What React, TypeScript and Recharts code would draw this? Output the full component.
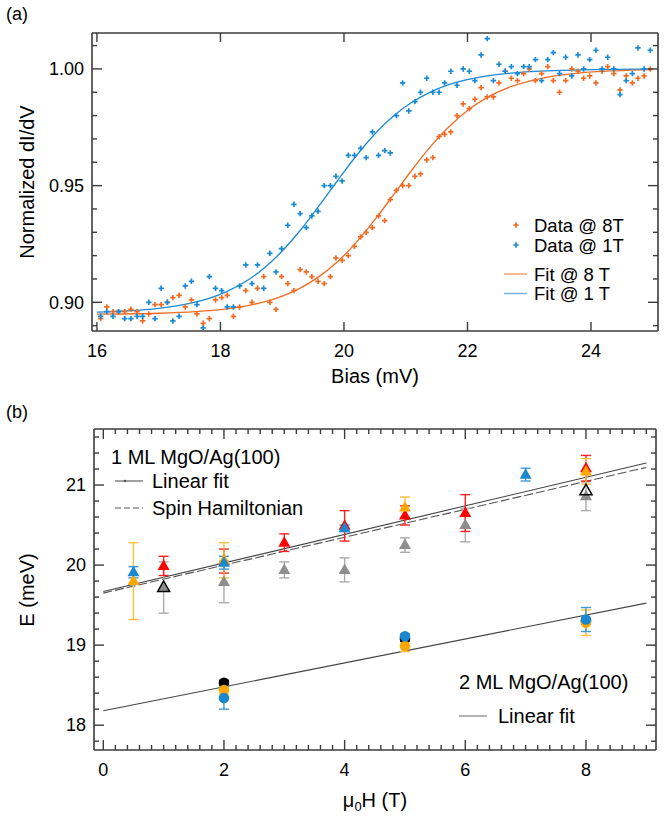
import React from 'react';
import { ComposedChart, Scatter, Line, XAxis, YAxis, ErrorBar } from 'recharts';

const FONT = '"Liberation Sans", Arial, Helvetica, sans-serif';
const AXIS = '#3c3c3c';

// ---------- Panel (a) ----------
const biasMv = [
  16.06, 16.16, 16.26, 16.35, 16.45, 16.55, 16.65, 16.74, 16.84, 16.94,
  17.04, 17.14, 17.23, 17.33, 17.43, 17.53, 17.62, 17.72, 17.82, 17.92,
  18.02, 18.11, 18.21, 18.31, 18.41, 18.51, 18.60, 18.70, 18.80, 18.90,
  18.99, 19.09, 19.19, 19.29, 19.39, 19.48, 19.58, 19.68, 19.78, 19.87,
  19.97, 20.07, 20.17, 20.27, 20.36, 20.46, 20.56, 20.66, 20.75, 20.85,
  20.95, 21.05, 21.15, 21.24, 21.34, 21.44, 21.54, 21.63, 21.73, 21.83,
  21.93, 22.03, 22.12, 22.22, 22.32, 22.42, 22.51, 22.61, 22.71, 22.81,
  22.91, 23.00, 23.10, 23.20, 23.30, 23.39, 23.49, 23.59, 23.69, 23.79,
  23.88, 23.98, 24.08, 24.18, 24.27, 24.37, 24.47, 24.57, 24.67, 24.76,
  24.86, 24.96,
];
const dIdV8T = [
  0.893, 0.898, 0.896, 0.896, 0.896, 0.897, 0.896, 0.892, 0.895, 0.899,
  0.899, 0.900, 0.902, 0.903, 0.898, 0.901, 0.895, 0.891, 0.893, 0.901,
  0.902, 0.903, 0.894, 0.898, 0.905, 0.900, 0.906, 0.911, 0.900, 0.897,
  0.911, 0.908, 0.905, 0.914, 0.913, 0.911, 0.909, 0.908, 0.911, 0.919,
  0.918, 0.920, 0.924, 0.928, 0.930, 0.932, 0.937, 0.935, 0.944, 0.948,
  0.950, 0.950, 0.954, 0.955, 0.961, 0.962, 0.971, 0.972, 0.973, 0.980,
  0.985, 0.983, 0.987, 0.992, 0.988, 0.988, 0.994, 0.999, 0.996, 0.995,
  0.998, 1.000, 0.995, 0.998, 1.001, 0.995, 0.990, 0.995, 1.000, 0.999,
  0.996, 0.997, 0.994, 0.999, 1.001, 0.998, 0.991, 0.997, 0.994, 0.996,
  0.997, 1.000,
];
const dIdV1T = [
  0.894, 0.896, 0.894, 0.896, 0.893, 0.893, 0.894, 0.894, 0.900, 0.893,
  0.906, 0.900, 0.892, 0.894, 0.907, 0.909, 0.899, 0.889, 0.911, 0.906,
  0.905, 0.898, 0.898, 0.907, 0.916, 0.908, 0.916, 0.906, 0.921, 0.913,
  0.923, 0.933, 0.942, 0.938, 0.932, 0.937, 0.939, 0.950, 0.950, 0.954,
  0.952, 0.963, 0.963, 0.966, 0.962, 0.973, 0.963, 0.965, 0.964, 0.980,
  0.994, 0.982, 0.986, 0.990, 0.996, 0.990, 0.990, 0.994, 0.999, 0.993,
  1.000, 0.999, 0.995, 1.006, 1.013, 0.995, 1.002, 0.999, 1.001, 0.998,
  1.001, 1.001, 1.004, 0.995, 1.004, 1.007, 0.998, 1.005, 0.997, 1.006,
  1.000, 1.004, 1.008, 1.000, 1.005, 1.000, 0.989, 0.995, 0.998, 1.009,
  1.000, 1.008,
];
const fitBias8T = [16.0, 17.0, 17.6, 18.1, 18.5, 18.9, 19.3, 19.6, 19.9, 20.2, 20.5, 20.8, 21.1, 21.4, 21.7, 22.0, 22.3, 22.7, 23.2, 23.8, 24.4, 25.0];
const fit8T = [0.8949, 0.8953, 0.896, 0.8972, 0.8989, 0.9017, 0.9062, 0.9111, 0.9175, 0.9257, 0.9354, 0.946, 0.9567, 0.9667, 0.9752, 0.9822, 0.9875, 0.9924, 0.996, 0.9982, 0.9992, 0.9997];
const fitBias1T = [16.0, 16.5, 17.0, 17.5, 17.8, 18.1, 18.4, 18.7, 19.0, 19.3, 19.6, 19.9, 20.2, 20.5, 20.8, 21.1, 21.4, 21.8, 22.2, 22.7, 23.3, 24.0, 25.0];
const fit1T = [0.8958, 0.8963, 0.8974, 0.8995, 0.9016, 0.9046, 0.9088, 0.9145, 0.922, 0.9311, 0.9415, 0.9523, 0.9628, 0.9721, 0.9798, 0.9857, 0.9901, 0.9941, 0.9965, 0.9982, 0.9992, 0.9997, 1.0];
const biasTicks = [16, 18, 20, 22, 24];
const dIdVTicks = [0.89, 0.9, 0.91, 0.92, 0.93, 0.94, 0.95, 0.96, 0.97, 0.98, 0.99, 1.0, 1.01];

// ---------- Panel (b) ----------
const gray1ML_T = [1, 2, 3, 4, 5, 6, 8];
const gray1ML_E = [19.72, 19.79, 19.94, 19.94, 20.25, 20.5, 20.86];
const gray1ML_err = [0.32, 0.26, 0.1, 0.15, 0.09, 0.21, 0.18];
const open1ML_T = [1, 8];
const open1ML_E = [19.72, 20.93];
const red1ML_T = [1, 2, 3, 4, 5, 6, 8];
const red1ML_E = [19.99, 20.05, 20.28, 20.49, 20.62, 20.65, 21.21];
const red1ML_err = [0.12, 0.15, 0.11, 0.19, 0.12, 0.23, 0.16];
const orange1ML_T = [0.5, 2, 5, 8];
const orange1ML_E = [19.8, 20.06, 20.72, 21.17];
const orange1ML_err = [0.48, 0.22, 0.13, 0.16];
const blue1ML_T = [0.5, 2, 4, 7];
const blue1ML_E = [19.91, 20.03, 20.46, 21.13];
const blue1ML_err = [0.07, 0.08, 0.04, 0.08];

const black2ML_T = [2, 5, 8];
const black2ML_E = [18.53, 19.08, 19.3];
const black2ML_err = [0.03, 0.03, 0.03];
const orange2ML_T = [2, 5, 8];
const orange2ML_E = [18.44, 18.99, 19.28];
const orange2ML_err = [0.05, 0.07, 0.16];
const blue2ML_T = [2, 5, 8];
const blue2ML_E = [18.34, 19.11, 19.32];
const blue2ML_err = [0.14, 0.03, 0.15];

const fit1ML_T = [0, 9.0];
const fit1ML_E = [19.67, 21.275];
const spinHam_T = [0, 9.0];
const spinHam_E = [19.65, 21.22];
const fit2ML_T = [0, 9.0];
const fit2ML_E = [18.18, 19.525];

const fieldTicks = [
  0, 0.2, 0.4, 0.6, 0.8, 1, 1.2, 1.4, 1.6, 1.8, 2, 2.2, 2.4, 2.6, 2.8, 3, 3.2, 3.4, 3.6, 3.8,
  4, 4.2, 4.4, 4.6, 4.8, 5, 5.2, 5.4, 5.6, 5.8, 6, 6.2, 6.4, 6.6, 6.8, 7, 7.2, 7.4, 7.6, 7.8,
  8, 8.2, 8.4, 8.6, 8.8, 9,
];
const energyTicks = [17.8, 18, 18.2, 18.4, 18.6, 18.8, 19, 19.2, 19.4, 19.6, 19.8, 20, 20.2, 20.4, 20.6, 20.8, 21, 21.2, 21.4, 21.6];

// ---------- colours ----------
const ORANGE_A = '#F26B22';
const BLUE_A = '#1A8AD4';
const RED = '#FF0000';
const YELLOW = '#FFA800';
const BLUE_B = '#1B87CC';
const GRAY = '#8E8E8E';

const zip = (xs: number[], ys: number[], es?: number[]) =>
  xs.map((x, i) => (es ? { x, y: ys[i], e: es[i] } : { x, y: ys[i] }));

// ---------- tick factory ----------
const M = 8;
type Side = 'left' | 'right' | 'top' | 'bottom';
function makeTick(
  side: Side,
  isMajor: (v: number) => boolean,
  majorLen: number,
  minorLen: number,
  fmt: ((v: number) => string) | null,
) {
  return function Tick(props: any) {
    const { x, y, payload } = props;
    const v = payload.value as number;
    const major = isMajor(v);
    const len = major ? majorLen : minorLen;
    let x1 = x, y1 = y, x2 = x, y2 = y;
    if (side === 'left') { x1 = x + M; x2 = x1 + len; }
    else if (side === 'right') { x1 = x - M; x2 = x1 - len; }
    else if (side === 'top') { y1 = y + M; y2 = y1 + len; }
    else { y1 = y - M; y2 = y1 - len; }
    const label = major && fmt ? fmt(v) : null;
    return (
      <g>
        <line x1={x1} y1={y1} x2={x2} y2={y2} stroke={AXIS} strokeWidth={1.4} />
        {label !== null && side === 'left' && (
          <text x={x} y={y} dy={6.3} textAnchor="end" fontFamily={FONT} fontSize={18} fill="#000">{label}</text>
        )}
        {label !== null && side === 'bottom' && (
          <text x={x} y={y + 18} textAnchor="middle" fontFamily={FONT} fontSize={18} fill="#000">{label}</text>
        )}
      </g>
    );
  };
}

const isMajorA_y = (v: number) => Math.abs(v * 20 - Math.round(v * 20)) < 1e-6;
const always = () => true;
const isEvenInt = (v: number) => Math.abs(v - Math.round(v)) < 1e-6 && Math.round(v) % 2 === 0;
const isInt = (v: number) => Math.abs(v - Math.round(v)) < 1e-6;

// ---------- markers ----------
const crossShape = (color: string) => (p: any) => (
  <path d={`M${p.cx - 2.7},${p.cy}H${p.cx + 2.7}M${p.cx},${p.cy - 2.7}V${p.cy + 2.7}`} stroke={color} strokeWidth={1.7} fill="none" />
);
const triShape = (fill: string, stroke = 'none') => (p: any) => (
  <path d={`M${p.cx},${p.cy - 6.5}L${p.cx + 6},${p.cy + 4}L${p.cx - 6},${p.cy + 4}Z`} fill={fill} stroke={stroke} strokeWidth={1.5} />
);
const circShape = (fill: string) => (p: any) => <circle cx={p.cx} cy={p.cy} r={5.3} fill={fill} />;
const noShape = () => <g />;

const axisLine = { stroke: AXIS, strokeWidth: 1.6 };

function PanelA() {
  const pts8 = zip(biasMv, dIdV8T);
  const pts1 = zip(biasMv, dIdV1T);
  const f8 = zip(fitBias8T, fit8T);
  const f1 = zip(fitBias1T, fit1T);
  const xd: [number, number] = [15.92, 25.085];
  const yd: [number, number] = [0.8877, 1.0154];
  const common = { tickSize: 0, tickMargin: M, tickLine: false, axisLine, interval: 0 as const, allowDataOverflow: true, type: 'number' as const };
  return (
    <ComposedChart width={672} height={400} margin={{ top: 32, right: 13, bottom: 39, left: 32 }}>
      <XAxis xAxisId="b" dataKey="x" domain={xd} ticks={biasTicks} height={30} tick={makeTick('bottom', always, 9, 9, (v) => String(v))} {...common} />
      <XAxis xAxisId="t" orientation="top" dataKey="x" domain={xd} ticks={biasTicks} height={1} tick={makeTick('top', always, 9, 9, null)} {...common} />
      <YAxis yAxisId="l" dataKey="y" domain={yd} ticks={dIdVTicks} width={60} tick={makeTick('left', isMajorA_y, 10, 5, (v) => v.toFixed(2))} {...common} />
      <YAxis yAxisId="r" orientation="right" dataKey="y" domain={yd} ticks={dIdVTicks} width={1} tick={makeTick('right', isMajorA_y, 10, 5, null)} {...common} />
      <Scatter xAxisId="t" yAxisId="r" data={pts8} dataKey="y" shape={noShape} isAnimationActive={false} />
      <Scatter xAxisId="b" yAxisId="l" data={pts8} dataKey="y" shape={crossShape(ORANGE_A)} isAnimationActive={false} />
      <Scatter xAxisId="b" yAxisId="l" data={pts1} dataKey="y" shape={crossShape(BLUE_A)} isAnimationActive={false} />
      <Line xAxisId="b" yAxisId="l" data={f8} dataKey="y" type="monotone" dot={false} stroke={ORANGE_A} strokeWidth={1.3} isAnimationActive={false} />
      <Line xAxisId="b" yAxisId="l" data={f1} dataKey="y" type="monotone" dot={false} stroke={BLUE_A} strokeWidth={1.3} isAnimationActive={false} />
    </ComposedChart>
  );
}

function PanelB() {
  const xd: [number, number] = [-0.154, 9.161];
  const yd: [number, number] = [17.69, 21.7];
  const common = { tickSize: 0, tickMargin: M, tickLine: false, axisLine, interval: 0 as const, allowDataOverflow: true, type: 'number' as const };
  const eb = (color: string) => <ErrorBar dataKey="e" direction="y" width={5} stroke={color} strokeWidth={1.4} />;
  return (
    <ComposedChart width={672} height={417} margin={{ top: 28, right: 15, bottom: 37, left: 34 }}>
      <XAxis xAxisId="b" dataKey="x" domain={xd} ticks={fieldTicks} height={30} tick={makeTick('bottom', isEvenInt, 10, 5, (v) => String(Math.round(v)))} {...common} />
      <XAxis xAxisId="t" orientation="top" dataKey="x" domain={xd} ticks={fieldTicks} height={1} tick={makeTick('top', isEvenInt, 10, 5, null)} {...common} />
      <YAxis yAxisId="l" dataKey="y" domain={yd} ticks={energyTicks} width={60} tick={makeTick('left', isInt, 10, 5, (v) => String(Math.round(v)))} {...common} />
      <YAxis yAxisId="r" orientation="right" dataKey="y" domain={yd} ticks={energyTicks} width={1} tick={makeTick('right', isInt, 10, 5, null)} {...common} />
      <Scatter xAxisId="t" yAxisId="r" data={zip(red1ML_T, red1ML_E)} dataKey="y" shape={noShape} isAnimationActive={false} />

      <Line xAxisId="b" yAxisId="l" data={zip(spinHam_T, spinHam_E)} dataKey="y" type="linear" dot={false} stroke="#555" strokeWidth={1.1} strokeDasharray="9 3" isAnimationActive={false} />
      <Line xAxisId="b" yAxisId="l" data={zip(fit1ML_T, fit1ML_E)} dataKey="y" type="linear" dot={false} stroke="#444" strokeWidth={1.1} isAnimationActive={false} />
      <Line xAxisId="b" yAxisId="l" data={zip(fit2ML_T, fit2ML_E)} dataKey="y" type="linear" dot={false} stroke="#444" strokeWidth={1.1} isAnimationActive={false} />

      <Scatter xAxisId="b" yAxisId="l" data={zip(gray1ML_T, gray1ML_E, gray1ML_err)} dataKey="y" shape={triShape(GRAY)} isAnimationActive={false}>{eb('#ABABAB')}</Scatter>
      <Scatter xAxisId="b" yAxisId="l" data={zip(open1ML_T, open1ML_E)} dataKey="y" shape={triShape('none', '#000')} isAnimationActive={false} />
      <Scatter xAxisId="b" yAxisId="l" data={zip(red1ML_T, red1ML_E, red1ML_err)} dataKey="y" shape={triShape(RED)} isAnimationActive={false}>{eb('#FF2020')}</Scatter>
      <Scatter xAxisId="b" yAxisId="l" data={zip(orange1ML_T, orange1ML_E, orange1ML_err)} dataKey="y" shape={triShape(YELLOW)} isAnimationActive={false}>{eb('#FFBE3C')}</Scatter>
      <Scatter xAxisId="b" yAxisId="l" data={zip(blue1ML_T, blue1ML_E, blue1ML_err)} dataKey="y" shape={triShape(BLUE_B)} isAnimationActive={false}>{eb('#3C9AD6')}</Scatter>

      <Scatter xAxisId="b" yAxisId="l" data={zip(black2ML_T, black2ML_E, black2ML_err)} dataKey="y" shape={circShape('#000')} isAnimationActive={false}>{eb('#000')}</Scatter>
      <Scatter xAxisId="b" yAxisId="l" data={zip(orange2ML_T, orange2ML_E, orange2ML_err)} dataKey="y" shape={circShape(YELLOW)} isAnimationActive={false}>{eb('#FFBE3C')}</Scatter>
      <Scatter xAxisId="b" yAxisId="l" data={zip(blue2ML_T, blue2ML_E, blue2ML_err)} dataKey="y" shape={circShape(BLUE_B)} isAnimationActive={false}>{eb('#3C9AD6')}</Scatter>
    </ComposedChart>
  );
}

function Overlay() {
  const t = { fontFamily: FONT, fill: '#000' };
  return (
    <svg width={672} height={817} style={{ position: 'absolute', left: 0, top: 0, pointerEvents: 'none' }}>
      <text x={6} y={20} fontSize={18} {...t}>(a)</text>
      <text x={6} y={418} fontSize={18} {...t}>(b)</text>

      <text transform="translate(34,182) rotate(-90)" textAnchor="middle" fontSize={20} {...t}>Normalized dI/dV</text>
      <text x={375} y={383} textAnchor="middle" fontSize={20} {...t}>Bias (mV)</text>

      <text transform="translate(34,590) rotate(-90)" textAnchor="middle" fontSize={20} {...t}>E (meV)</text>
      <text x={375} y={807} textAnchor="middle" fontSize={20} {...t}>
        μ<tspan fontSize={13} dy={4}>0</tspan><tspan dy={-4}>H (T)</tspan>
      </text>

      {/* legend (a) */}
      <path d="M513.3,225H518.7M516,222.3V227.7" stroke={ORANGE_A} strokeWidth={1.7} />
      <text x={534} y={231.5} fontSize={18.5} {...t}>Data @ 8T</text>
      <path d="M513.3,245H518.7M516,242.3V247.7" stroke={BLUE_A} strokeWidth={1.7} />
      <text x={534} y={251.5} fontSize={18.5} {...t}>Data @ 1T</text>
      <line x1={504} x2={527} y1={274} y2={274} stroke="#F4A071" strokeWidth={1.5} />
      <text x={534} y={280.5} fontSize={18.5} {...t}>Fit @ 8 T</text>
      <line x1={504} x2={527} y1={293.5} y2={293.5} stroke="#6DB6E4" strokeWidth={1.5} />
      <text x={534} y={300} fontSize={18.5} {...t}>Fit @ 1 T</text>

      {/* legend (b) */}
      <text x={111} y={464} fontSize={20} {...t}>1 ML MgO/Ag(100)</text>
      <line x1={115} x2={143} y1={481} y2={481} stroke="#555" strokeWidth={1.1} />
      <circle cx={125} cy={481} r={1.2} fill="#555" />
      <text x={152} y={488} fontSize={20} {...t}>Linear fit</text>
      <line x1={115} x2={143} y1={508} y2={508} stroke="#555" strokeWidth={1.1} strokeDasharray="6 3" />
      <text x={152} y={515} fontSize={20} {...t}>Spin Hamiltonian</text>

      <text x={459} y={689} fontSize={20} {...t}>2 ML MgO/Ag(100)</text>
      <line x1={459} x2={487} y1={716} y2={716} stroke="#777" strokeWidth={1.1} />
      <text x={498} y={723} fontSize={20} {...t}>Linear fit</text>
    </svg>
  );
}

export default function App() {
  return (
    <div style={{ position: 'absolute', left: 0, top: 0, width: 672, height: 817, background: '#fff' }}>
      <div style={{ position: 'absolute', left: 0, top: 0 }}><PanelA /></div>
      <div style={{ position: 'absolute', left: 0, top: 400 }}><PanelB /></div>
      <Overlay />
    </div>
  );
}
